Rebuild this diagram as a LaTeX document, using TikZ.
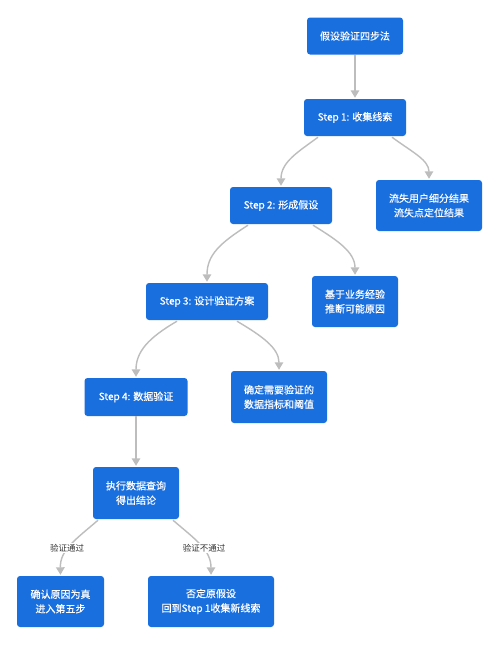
\documentclass[tikz,border=0pt]{standalone}
\usepackage{fontspec}
\setmainfont{Noto Sans CJK SC}
\newfontfamily\boxfont[FakeBold=0.4]{Noto Sans CJK SC}
\usetikzlibrary{arrows.meta,calc}
\definecolor{boxblue}{HTML}{1A6FDF}
\definecolor{edgegray}{HTML}{BDBDBD}
\definecolor{labelgray}{HTML}{333333}
\tikzset{
  box/.style={draw=none,fill=boxblue,rounded corners=3pt,text=white,align=center,
    inner sep=0pt,font=\boxfont\fontsize{10}{14.5}\selectfont},
  conn/.style={draw=edgegray,line width=1.4pt,-{Triangle[length=7.5pt,width=8.5pt]},shorten >=1pt},
  elabel/.style={fill=white,text=labelgray,inner sep=1pt,font=\fontsize{8.5}{10}\selectfont}
}
\begin{document}
\begin{tikzpicture}[x=1pt,y=-1pt]
\useasboundingbox[fill=white] (0,0) rectangle (500,645);
\node[box,minimum width=96pt,minimum height=37pt] (A) at (355,36) {假设验证四步法};
\node[box,minimum width=102pt,minimum height=37pt] (B) at (355,117.5) {Step 1: 收集线索};
\node[box,minimum width=102pt,minimum height=37pt] (C) at (281,205.5) {Step 2: 形成假设};
\node[box,minimum width=106pt,minimum height=51pt] (D) at (429,205.5) {流失用户细分结果\\流失点定位结果};
\node[box,minimum width=122pt,minimum height=37pt] (E) at (207,301.5) {Step 3: 设计验证方案};
\node[box,minimum width=86pt,minimum height=51pt] (F) at (355,301.5) {基于业务经验\\推断可能原因};
\node[box,minimum width=103pt,minimum height=38pt] (G) at (136,397) {Step 4: 数据验证};
\node[box,minimum width=96pt,minimum height=52pt] (H) at (279,397) {确定需要验证的\\数据指标和阈值};
\node[box,minimum width=86pt,minimum height=52pt] (I) at (136,493) {执行数据查询\\得出结论};
\node[box,minimum width=87pt,minimum height=51pt] (J) at (60.5,601.5) {确认原因为真\\进入第五步};
\node[box,minimum width=126pt,minimum height=51pt] (K) at (211,601.5) {否定原假设\\回到Step 1收集新线索};

\draw[conn] (A.south) -- (B.north);
\draw[conn] ($(B.south)+(-37,1)$) .. controls (298,152) and (281,162) .. (C.north);
\draw[conn] ($(B.south)+(37,1)$) .. controls (412,152) and (429,160) .. (D.north);
\draw[conn] ($(C.south)+(-33,1)$) .. controls (220,243) and (207,255) .. (E.north);
\draw[conn] ($(C.south)+(32,1)$) .. controls (337,240) and (355,252) .. (F.north);
\draw[conn] ($(E.south)+(-30,1)$) .. controls (148,338) and (136,352) .. (G.north);
\draw[conn] ($(E.south)+(30,1)$) .. controls (262,336) and (279,348) .. (H.north);
\draw[conn] (G.south) -- (I.north);
\draw[conn] ($(I.south)+(-38,1)$) .. controls (75,540) and (60,550) .. (J.north);
\draw[conn] ($(I.south)+(37,1)$) .. controls (196,540) and (211,550) .. (K.north);
\node[elabel] (L1) at (67,548) {验证通过};
\node[elabel] (L2) at (204,548) {验证不通过};
\end{tikzpicture}
\end{document}
